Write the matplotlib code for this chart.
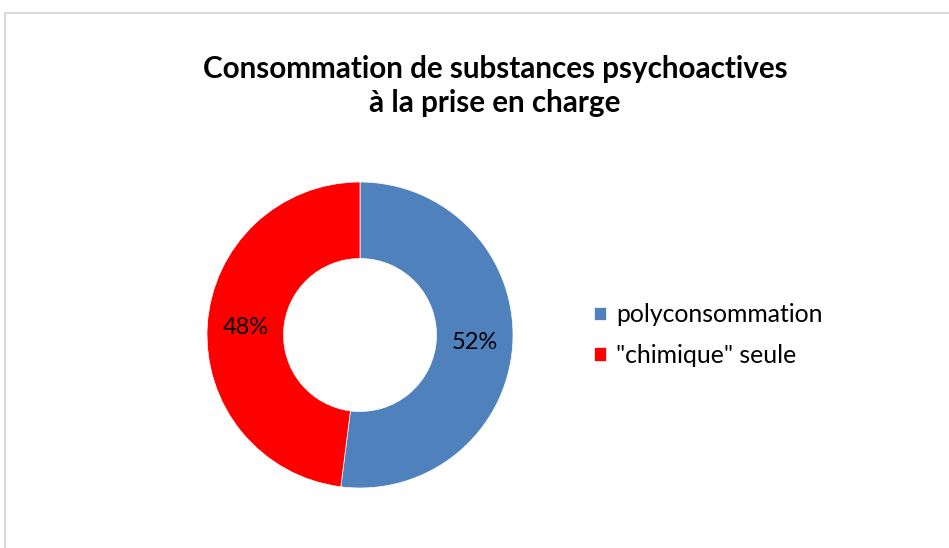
import matplotlib
matplotlib.use("Agg")
import matplotlib.pyplot as plt
from matplotlib.lines import Line2D

categories = ["polyconsommation", "\"chimique\" seule"]
values = [52, 48]
colors = ["#4F81BD", "#FF0000"]
title = "Consommation de substances psychoactives\nà la prise en charge"

W, H = 949, 548
fig = plt.figure(figsize=(W / 100, H / 100), dpi=100)
fig.patch.set_facecolor("white")

# border (left and top visible)
fig.add_artist(Line2D([5 / W, 5 / W], [0, 1 - 13 / H], color="#D9D9D9", lw=1.5, transform=fig.transFigure))
fig.add_artist(Line2D([5 / W, 1], [1 - 13 / H, 1 - 13 / H], color="#D9D9D9", lw=1.5, transform=fig.transFigure))

cx, cy, r = 360, 335, 153
ax = fig.add_axes([(cx - r) / W, (H - cy - r) / H, 2 * r / W, 2 * r / H])
wedges, texts, autotexts = ax.pie(
    values, colors=colors, startangle=90, counterclock=False,
    wedgeprops=dict(width=0.5, edgecolor="white", linewidth=0.5),
    autopct=lambda p: f"{p:.0f}%", pctdistance=0.75,
    textprops=dict(fontsize=17, color="black", family="Lato"),
    radius=1,
)
ax.set_xlim(-1, 1)
ax.set_ylim(-1, 1)
ax.set_aspect("equal")
ax.axis("off")

fig.text(495 / W, 1 - 86 / H, title, ha="center", va="center", fontsize=21.3,
         fontweight="bold", family="Lato", linespacing=1.3)

leg = fig.legend(wedges, categories, loc="center left",
                 bbox_to_anchor=(572 / W, 1 - 335 / H), frameon=False,
                 prop=dict(family="Lato", size=17.8), handlelength=0.47, handleheight=0.47,
                 handletextpad=0.4, labelspacing=0.7)

fig.savefig("out.png", dpi=100, facecolor="white")
